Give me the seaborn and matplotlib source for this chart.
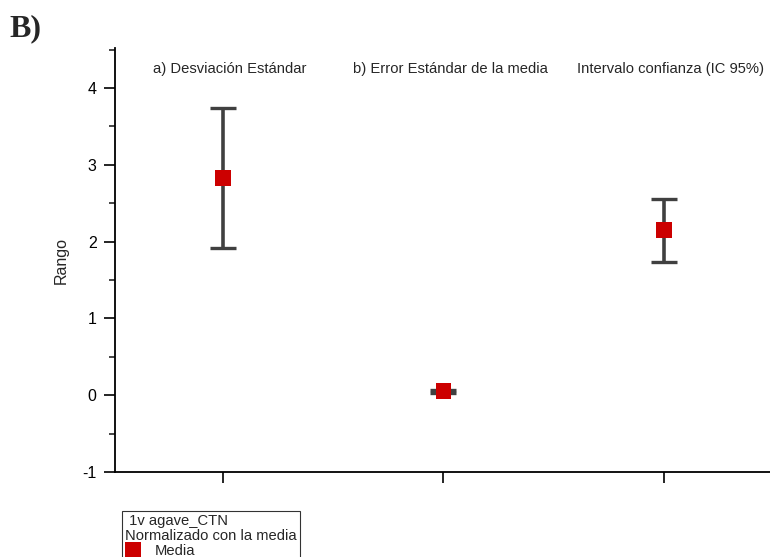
import numpy as np
import pandas as pd
import seaborn as sns
import matplotlib.pyplot as plt
from matplotlib.ticker import MultipleLocator

# Datos
categorias = ["a) Desviación Estándar", "b) Error Estándar de la media", "Intervalo confianza (IC 95%)"]
posiciones = [1, 2, 3]
medias = [2.83, 0.05, 2.15]
errores = [0.91, 0.02, 0.41]

df = pd.DataFrame({"x": posiciones, "media": medias, "error": errores, "serie": "Media"})

sns.set_style("ticks")
plt.rcParams["font.family"] = ["Liberation Sans", "DejaVu Sans"]
plt.rcParams["axes.unicode_minus"] = False

fig = plt.figure(figsize=(7.7, 5.57), dpi=100)
ax = fig.add_axes([0.149, 0.1526, 0.851, 0.7612])

# Barras de error
ax.errorbar(df["x"], df["media"], yerr=df["error"], fmt="none", ecolor="#404040",
            elinewidth=2.6, capsize=9.5, capthick=2.4, zorder=2)

# Marcadores de la media
sns.scatterplot(data=df, x="x", y="media", hue="serie", palette=["#CC0000"], marker="s",
                s=130, linewidth=0, ax=ax, zorder=3)

ax.set_xlim(0.51, 3.48)
ax.set_ylim(-1, 4.52)
ax.set_xticks(posiciones)
ax.set_xticklabels(["", "", ""])
ax.yaxis.set_major_locator(MultipleLocator(1))
ax.yaxis.set_minor_locator(MultipleLocator(0.5))
ax.tick_params(axis="both", which="major", direction="out", length=8, width=1.2,
               labelsize=11.5, colors="black", pad=5)
ax.tick_params(axis="y", which="minor", direction="out", length=4, width=1.2)
ax.set_xlabel("")
ax.set_ylabel("Rango", fontsize=11.5, labelpad=10)
sns.despine(ax=ax)
for s in ["left", "bottom"]:
    ax.spines[s].set_linewidth(1.3)
    ax.spines[s].set_color("black")

# Etiquetas de categorías en la parte superior
for x, lab in zip(posiciones, categorias):
    ax.text(x + 0.03, 4.25, lab, ha="center", va="center", fontsize=10.6)

# Leyenda
ax.get_legend().remove()
h, l = ax.get_legend_handles_labels()
leg = fig.legend(h, ["Media"], loc="upper left", bbox_to_anchor=(0.159, 0.083),
                 title=" 1v agave_CTN\nNormalizado con la media", fontsize=10.6,
                 title_fontsize=10.6, frameon=True, fancybox=False, edgecolor="black",
                 borderpad=0.2, handletextpad=1.0, handlelength=1.0, borderaxespad=0,
                 labelspacing=0.0)
leg._legend_box.align = "left"
leg._legend_box.sep = 1
leg.get_title().set_linespacing(1.12)
leg.get_frame().set_linewidth(0.8)

fig.text(0.012, 0.975, "B)", fontsize=23, fontweight="bold", family="Liberation Serif",
         ha="left", va="top")

fig.savefig("out.png", dpi=100)
